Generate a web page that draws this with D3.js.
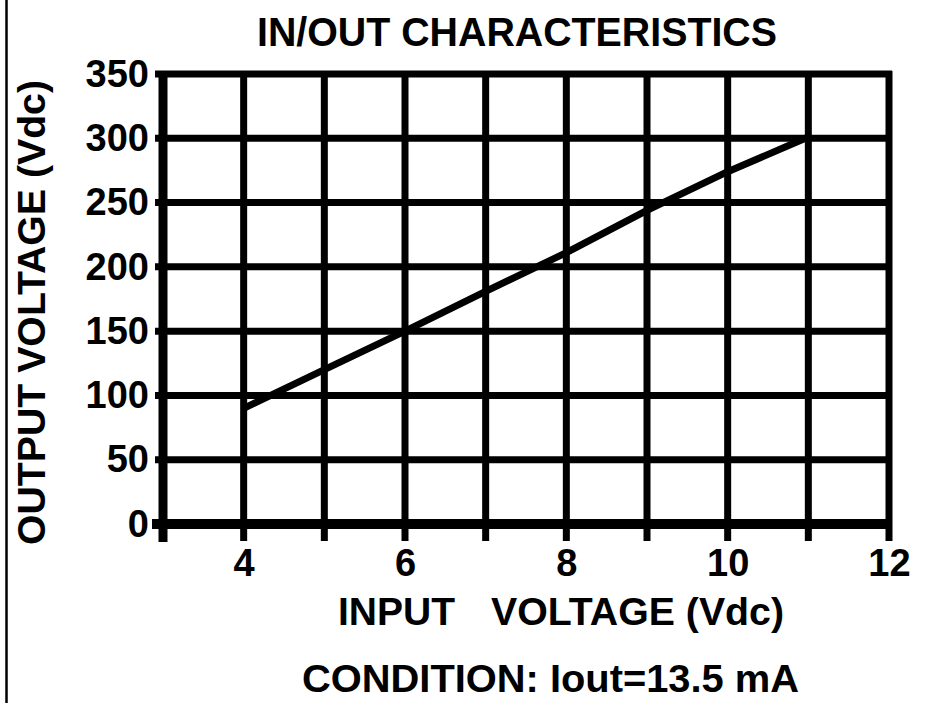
<!DOCTYPE html>
<html>
<head>
<meta charset="utf-8">
<script src="https://cdn.jsdelivr.net/npm/d3@7"></script>
<style>
  html, body { margin: 0; padding: 0; background: #fff; }
  svg { display: block; }
  text { font-family: "Liberation Sans", Arial, sans-serif; font-weight: bold; fill: #000; }
</style>
</head>
<body>
<svg id="chart" width="935" height="703"></svg>
<script>
// ---- data ----
const inputVoltage  = [4, 5, 6, 7, 8, 9, 10, 11];
const outputVoltage = [90, 120, 150, 181, 211, 244, 274, 301];
const xGridValues = [3, 4, 5, 6, 7, 8, 9, 10, 11, 12];
const xTickLabels = [4, 6, 8, 10, 12];
const yTickValues = [0, 50, 100, 150, 200, 250, 300, 350];
const titleText = "IN/OUT CHARACTERISTICS";
const xLabelParts = ["INPUT", "VOLTAGE (Vdc)"];
const yLabelText = "OUTPUT VOLTAGE (Vdc)";
const conditionText = "CONDITION: Iout=13.5 mA";

// ---- layout ----
const svg = d3.select("#chart");
const x = d3.scaleLinear().domain([3, 12]).range([163, 889]);
const y = d3.scaleLinear().domain([0, 350]).range([524, 74]);
const GRID_W = 7;

// left frame line
svg.append("line").attr("x1", 6.5).attr("x2", 6.5).attr("y1", 0).attr("y2", 703)
  .attr("stroke", "#000").attr("stroke-width", 2.5);

// horizontal gridlines (extend left as ticks)
svg.append("g").selectAll("line").data(yTickValues.filter(v => v > 0)).join("line")
  .attr("x1", 155).attr("x2", x(12) + 3)
  .attr("y1", d => y(d)).attr("y2", d => y(d))
  .attr("stroke", "#000").attr("stroke-width", GRID_W);

// vertical gridlines (extend below as ticks)
svg.append("g").selectAll("line").data(xGridValues.filter(v => v > 3)).join("line")
  .attr("x1", d => x(d)).attr("x2", d => x(d))
  .attr("y1", y(350) - 3).attr("y2", 541)
  .attr("stroke", "#000").attr("stroke-width", GRID_W);

// left axis line (thicker)
svg.append("line").attr("x1", x(3)).attr("x2", x(3))
  .attr("y1", y(350) - 3).attr("y2", 542)
  .attr("stroke", "#000").attr("stroke-width", 9);

// bottom axis line (thicker)
svg.append("line").attr("x1", 152).attr("x2", x(12) + 3)
  .attr("y1", y(0)).attr("y2", y(0))
  .attr("stroke", "#000").attr("stroke-width", 10);

// y tick labels via axis
const yAxis = d3.axisLeft(y).tickValues(yTickValues).tickSize(8).tickPadding(6).tickFormat(d3.format("d"));
const gy = svg.append("g").attr("transform", `translate(${x(3)},0)`).call(yAxis);
gy.select(".domain").remove();
gy.selectAll(".tick line").remove();
gy.selectAll("text").style("font-size", "38px").style("font-family", '"Liberation Sans", Arial, sans-serif')
  .style("font-weight", "bold").attr("fill", "#000");

// x tick labels via axis
const xAxis = d3.axisBottom(x).tickValues(xTickLabels).tickSize(0).tickPadding(25).tickFormat(d3.format("d"));
const gx = svg.append("g").attr("transform", `translate(0,${y(0)})`).call(xAxis);
gx.select(".domain").remove();
gx.selectAll(".tick line").remove();
gx.selectAll("text").style("font-size", "38px").style("font-family", '"Liberation Sans", Arial, sans-serif')
  .style("font-weight", "bold").attr("fill", "#000");

// data line
const line = d3.line().x((d, i) => x(inputVoltage[i])).y(d => y(d));
svg.append("path").datum(outputVoltage)
  .attr("d", line).attr("fill", "none").attr("stroke", "#000")
  .attr("stroke-width", 7).attr("stroke-linecap", "butt").attr("stroke-linejoin", "round");

// title
svg.append("text").attr("x", 257).attr("y", 46).style("font-size", "40px")
  .attr("textLength", 520).attr("lengthAdjust", "spacingAndGlyphs").text(titleText);

// x label (two parts with wide gap)
svg.append("text").attr("x", 338).attr("y", 625).style("font-size", "38px")
  .attr("textLength", 117).attr("lengthAdjust", "spacingAndGlyphs").text(xLabelParts[0]);
svg.append("text").attr("x", 491).attr("y", 625).style("font-size", "38px")
  .attr("textLength", 293).attr("lengthAdjust", "spacingAndGlyphs").text(xLabelParts[1]);

// y label rotated
svg.append("text").attr("transform", "translate(45,545) rotate(-90)")
  .style("font-size", "38px")
  .attr("textLength", 465).attr("lengthAdjust", "spacingAndGlyphs").text(yLabelText);

// condition
svg.append("text").attr("x", 302).attr("y", 692).style("font-size", "38px")
  .attr("textLength", 497).attr("lengthAdjust", "spacingAndGlyphs").text(conditionText);
</script>
</body>
</html>
